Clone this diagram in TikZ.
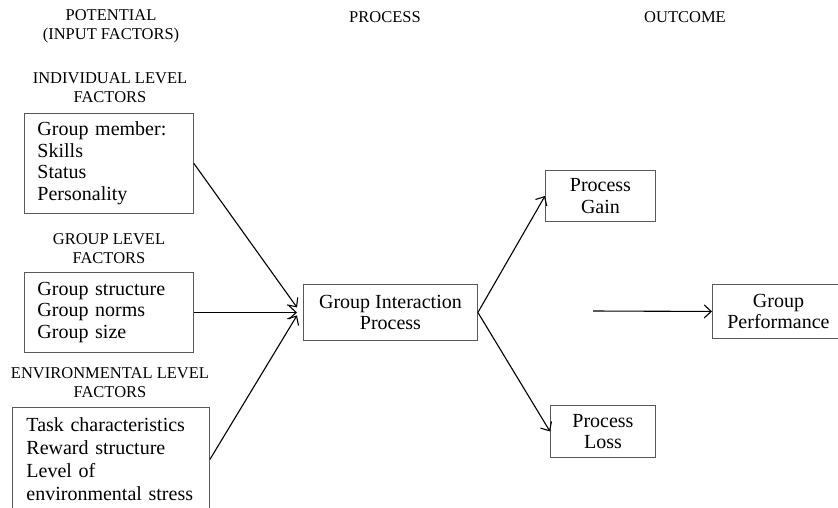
\documentclass[tikz,border=0pt]{standalone}
\usepackage{fontspec}
\setmainfont{Liberation Serif}
\usetikzlibrary{arrows.meta,calc}
\begin{document}
\begin{tikzpicture}[x=1pt,y=-1pt,
  box/.style={draw=black!65, line width=0.9pt, inner ysep=0pt, inner xsep=0pt, anchor=north west},
  body/.style={font=\fontsize{20}{21.5}\selectfont},
  head/.style={font=\fontsize{16.5}{19}\selectfont, align=center, inner sep=0pt},
  arr/.style={draw=black, line width=1.1pt, -{Straight Barb[length=7pt,width=13pt,line width=1.1pt]}}
]
\useasboundingbox (0,0) rectangle (838,507);
% headings
\node[head] (hpot) at (111,26.5) {POTENTIAL\\(INPUT FACTORS)};
\node[head] (hproc) at (385,17) {PROCESS};
\node[head] (hout) at (685,17) {OUTCOME};
\node[head] (hind) at (110,88) {INDIVIDUAL LEVEL\\FACTORS};
\node[head] (hgrp) at (109,249) {GROUP LEVEL\\FACTORS};
\node[head] (henv) at (110,382.5) {ENVIRONMENTAL LEVEL\\FACTORS};
% input boxes
\node[box, body, minimum width=169pt, minimum height=100pt, text width=143pt, inner xsep=13pt, align=left] (b1) at (24,113)
  {Group member:\\Skills\\Status\\Personality};
\node[box, body, minimum width=169pt, minimum height=80pt, text width=143pt, inner xsep=13pt, align=left] (b2) at (24,272)
  {Group structure\\Group norms\\Group size};
\node[box, body, minimum width=197pt, minimum height=104pt, text width=169pt, inner xsep=14pt, align=left, font=\fontsize{20}{23}\selectfont] (b3) at (12,407)
  {Task characteristics\\Reward structure\\Level of\\environmental stress};
% process / outcome boxes
\node[box, body, minimum width=174pt, minimum height=56pt, align=center] (gip) at (303,284)
  {Group Interaction\\Process};
\node[box, body, minimum width=110pt, minimum height=51pt, align=center] (gain) at (545,170)
  {Process\\Gain};
\node[box, body, minimum width=105pt, minimum height=52pt, align=center] (loss) at (550,405)
  {Process\\Loss};
\node[box, body, minimum width=132pt, minimum height=54pt, align=center] (perf) at (712,284)
  {Group\\Performance};
\coordinate (pstart) at (593,311);
% connectors
\draw[arr] (b1.east) -- ([xshift=-6pt,yshift=5pt]gip.west);
\draw[arr] (b2.east) -- ([xshift=-6pt]gip.west);
\draw[arr] (b3.east) -- ([xshift=-6pt,yshift=-3pt]gip.west);
\draw[arr] (gip.east) -- (gain.west);
\draw[arr] (gip.east) -- (loss.west);
\draw[arr] (pstart) -- (perf.west);
\end{tikzpicture}
\end{document}
